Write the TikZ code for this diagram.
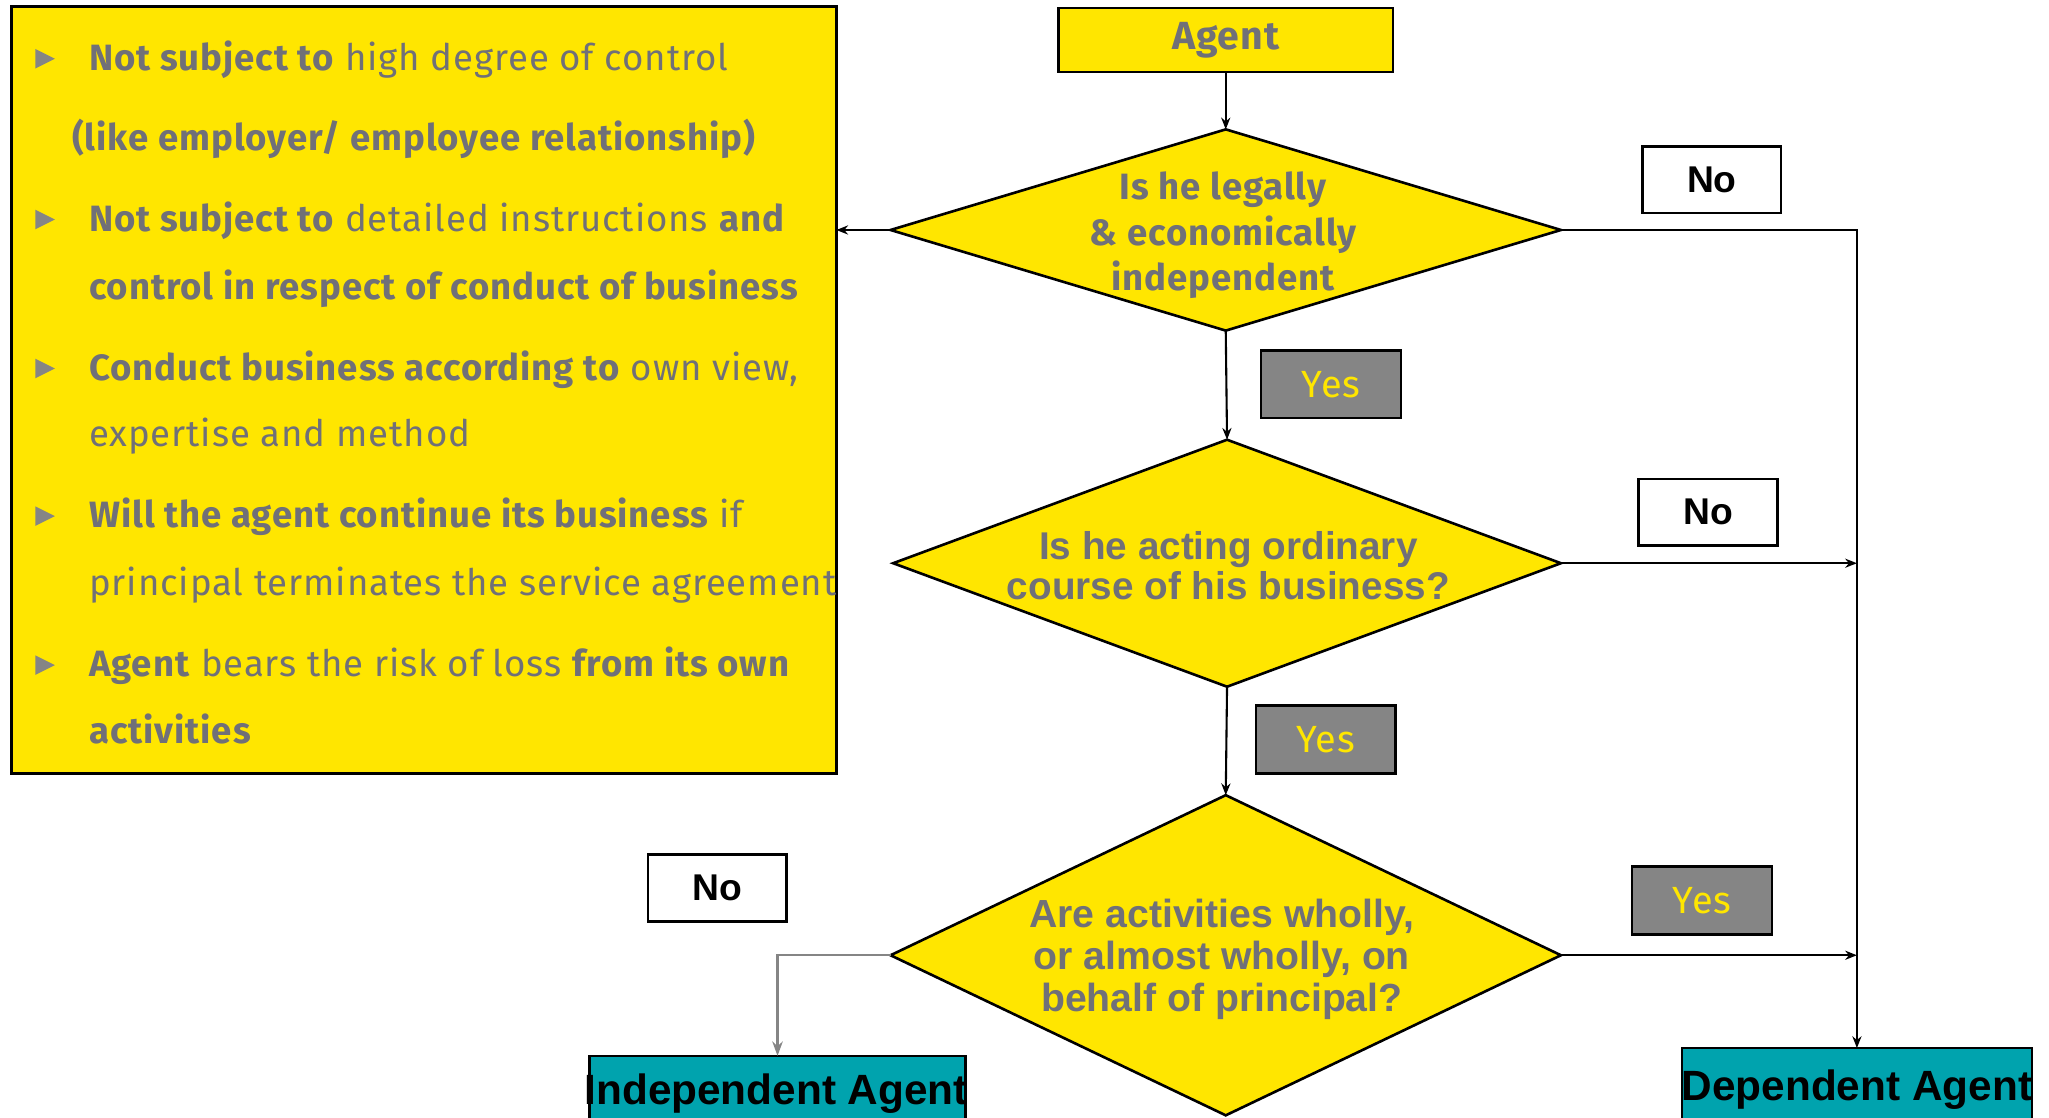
\documentclass[tikz,border=0pt]{standalone}
\usepackage{fontspec}
\setmainfont{Fira Sans}
\newfontfamily\arialfont{Liberation Sans}
\newfontfamily\eyfont[LetterSpace=2.5]{Fira Sans}
\usetikzlibrary{shapes.geometric,arrows.meta}
\definecolor{eyyellow}{HTML}{FFE600}
\definecolor{txtgray}{HTML}{707078}
\definecolor{boxgray}{HTML}{858585}
\definecolor{tealbox}{HTML}{00A3AE}
\begin{document}
\begin{tikzpicture}[x=1pt,y=-1pt,
  ln/.style={draw=black,line width=1.6pt},
  arr/.style={ln,-{Stealth[length=9pt,width=7pt]}},
  garr/.style={draw=boxgray,line width=1.8pt,-{Stealth[length=11pt,width=8pt]}},
  decision/.style={diamond,draw=black,line width=2pt,fill=eyyellow,inner sep=0pt,outer sep=0pt},
  dtext/.style={align=center,text=txtgray,font=\arialfont\bfseries\fontsize{29.6}{31}\selectfont},
  nobox/.style={draw=black,line width=2pt,fill=white,minimum width=106pt,minimum height=51pt,inner sep=0pt,outer sep=0pt,font=\arialfont\bfseries\fontsize{28.5}{30}\selectfont},
  yesbox/.style={draw=black,line width=2pt,fill=boxgray,minimum width=107pt,minimum height=52pt,inner sep=0pt,outer sep=0pt,text=eyyellow,font=\eyfont\fontsize{29}{30}\selectfont},
  endbox/.style={draw=black,line width=2pt,fill=tealbox,inner sep=0pt,outer sep=0pt,anchor=north west},
  endtext/.style={font=\arialfont\bfseries\fontsize{32.4}{34}\selectfont,text=black},
  crittext/.style={anchor=base west,inner sep=0pt,text=txtgray,font=\eyfont\fontsize{28}{30}\selectfont},
  bullet/.style={fill=boxgray}
]
\useasboundingbox (0,0) rectangle (1568,855.5);
% criteria box
\node[draw=black,line width=2pt,fill=eyyellow,minimum width=631pt,minimum height=587pt,anchor=north west,inner sep=0pt,outer sep=0pt] (crit) at (9,5) {};
\foreach \yy in {45,168,282,395,509} \fill[bullet] (27,\yy-7.5) -- (42,\yy) -- (27,\yy+7.5) -- cycle;
\node[crittext] (c1) at (68,54) {\textbf{Not subject to} high degree of control};
\node[crittext] (c2) at (55,115) {\textbf{(like employer/ employee relationship)}};
\node[crittext] (c3) at (68,177) {\textbf{Not subject to} detailed instructions \textbf{and}};
\node[crittext] (c4) at (68,229) {\textbf{control in respect of conduct of business}};
\node[crittext] (c5) at (68,291) {\textbf{Conduct business according to} own view,};
\node[crittext] (c6) at (68,342) {expertise and method};
\node[crittext] (c7) at (68,404) {\textbf{Will the agent continue its business} if};
\node[crittext] (c8) at (68,456) {principal terminates the service agreement};
\node[crittext] (c9) at (68,518) {\textbf{Agent} bears the risk of loss \textbf{from its own}};
\node[crittext] (c10) at (68,569) {\textbf{activities}};
% agent
\node[draw=black,line width=2pt,fill=eyyellow,minimum width=256pt,minimum height=49pt,inner sep=0pt,outer sep=0pt,text=txtgray,font=\eyfont\bfseries\fontsize{30}{30}\selectfont] (agent) at (938,30.5) {\raisebox{-3pt}{Agent}};
% decisions
\node[decision,minimum width=513pt,minimum height=154pt] (d1) at (938,176) {};
\node[align=center,text=txtgray,font=\eyfont\bfseries\fontsize{28}{34.5}\selectfont] (d1t) at (936,180) {Is he legally\\\& economically\\independent};
\node[decision,minimum width=511pt,minimum height=189pt] (d2) at (939,431) {};
\node[dtext] (d2t) at (940,433) {Is he acting ordinary\\course of his business?};
\node[decision,minimum width=513pt,minimum height=245pt] (d3) at (938,731) {};
\node[dtext,font=\arialfont\bfseries\fontsize{30}{32}\selectfont] (d3t) at (935,734) {Are activities wholly,\\or almost wholly, on\\behalf of principal?};
% end boxes
\node[endbox,minimum width=288pt,minimum height=70pt] (ind) at (451,808) {};
\node[endtext] (indt) at (594,837) {Independent Agent};
\node[endbox,minimum width=268pt,minimum height=70pt] (dep) at (1287,802) {};
\node[endtext] (dept) at (1421,834) {Dependent Agent};
% yes/no labels
\node[nobox] (no1) at (1310,137.5) {No};
\node[yesbox] (yes1) at (1018.5,294) {Yes};
\node[nobox] (no2) at (1307,392) {No};
\node[yesbox] (yes2) at (1014.5,566) {Yes};
\node[nobox] (no3) at (549,679.5) {No};
\node[yesbox] (yes3) at (1302.5,689) {Yes};
% connectors
\draw[arr] (agent.south) -- (d1.north);
\draw[arr] (d1.west) -- (d1.west -| crit.east);
\draw[arr] (d1.east) -- (d1.east -| dep.north) -- (dep.north);
\draw[arr] (d1.south) -- (d2.north);
\draw[arr] (d2.east) -- (d2.east -| dep.north);
\draw[arr] (d2.south) -- (d3.north);
\draw[arr] (d3.east) -- (d3.east -| dep.north);
\draw[garr] (d3.west) -- (d3.west -| ind.north) -- (ind.north);
\end{tikzpicture}
\end{document}
